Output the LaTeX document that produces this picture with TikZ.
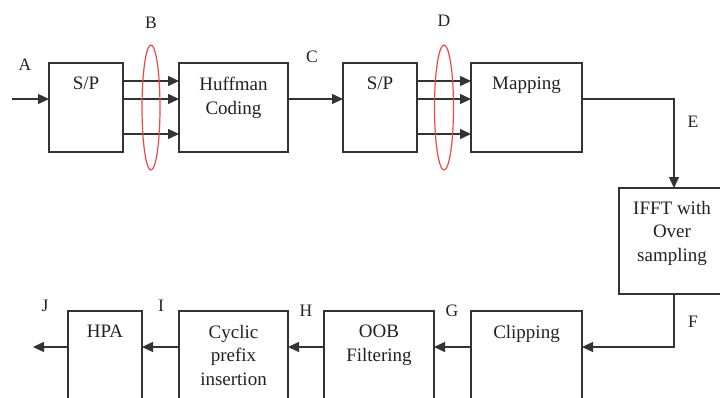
\documentclass[tikz,border=0pt]{standalone}
\usepackage{fontspec}
\setmainfont{Liberation Serif}
\usetikzlibrary{arrows.meta,calc}
\definecolor{ln}{HTML}{333333}
\definecolor{ringred}{HTML}{F04848}
\definecolor{tx}{HTML}{222222}
\begin{document}
\begin{tikzpicture}[x=1pt,y=-1pt,
 blk/.style={draw=ln, line width=1.3pt, fill=white, inner sep=0pt, outer sep=0pt},
 txt/.style={font=\fontsize{19}{23.5}\selectfont, align=center, inner sep=0pt, anchor=north, text=tx},
 lbl/.style={font=\fontsize{17.5}{20}\selectfont, inner sep=0pt, text=tx},
 arr/.style={draw=ln, line width=1.3pt, -{Triangle[length=11pt,width=10pt]}},
 ringst/.style={draw=ringred, line width=1.2pt}]
\useasboundingbox (0,0) rectangle (720,397);
\clip (0,0) rectangle (720,397);
% boxes
\node[blk, minimum width=74pt, minimum height=89pt] (sp1) at (86,107.5) {};
\node[blk, minimum width=109pt, minimum height=89pt] (huff) at (233.5,107.5) {};
\node[blk, minimum width=74pt, minimum height=89pt] (sp2) at (380,107.5) {};
\node[blk, minimum width=111pt, minimum height=89pt] (map) at (526.5,107.5) {};
\node[blk, minimum width=110pt, minimum height=106pt] (ifft) at (674,241) {};
\node[blk, minimum width=111pt, minimum height=119pt] (clip) at (526.5,370.5) {};
\node[blk, minimum width=110pt, minimum height=119pt] (oob) at (379,370.5) {};
\node[blk, minimum width=109pt, minimum height=119pt] (cyc) at (233.5,370.5) {};
\node[blk, minimum width=74pt, minimum height=119pt] (hpa) at (105,370.5) {};
% box texts
\node[txt] (tsp1) at ([yshift=-14pt]sp1.north) {S/P};
\node[txt] (thuff) at ([yshift=-14pt]huff.north) {Huffman\\Coding};
\node[txt] (tsp2) at ([yshift=-14pt]sp2.north) {S/P};
\node[txt] (tmap) at ([yshift=-14pt]map.north) {Mapping};
\node[txt] (tifft) at ([xshift=-2pt,yshift=-13pt]ifft.north) {IFFT with\\Over\\sampling};
\node[txt] (tclip) at ([yshift=-14pt]clip.north) {Clipping};
\node[txt] (toob) at ([yshift=-14pt]oob.north) {OOB\\Filtering};
\node[txt] (tcyc) at ([yshift=-14pt]cyc.north) {Cyclic\\prefix\\insertion};
\node[txt] (thpa) at ([yshift=-14pt]hpa.north) {HPA};
% helper coordinates
\coordinate (in) at (12,99);
\coordinate (r1) at (0,81);
\coordinate (r2) at (0,99);
\coordinate (r3) at (0,134);
\coordinate (rb) at (0,347);
\coordinate (out) at (33,347);
% connectors
\draw[arr] (in) -- (sp1.west |- in);
\foreach \r in {r1,r2,r3} {
  \draw[arr] (sp1.east |- \r) -- (huff.west |- \r);
  \draw[arr] (sp2.east |- \r) -- (map.west |- \r);
}
\draw[arr] (huff.east |- r2) -- (sp2.west |- r2);
\draw[arr] (map.east |- r2) -| (ifft.north);
\draw[arr] (ifft.south) |- (clip.east |- rb);
\draw[arr] (clip.west |- rb) -- (oob.east |- rb);
\draw[arr] (oob.west |- rb) -- (cyc.east |- rb);
\draw[arr] (cyc.west |- rb) -- (hpa.east |- rb);
\draw[arr] (hpa.west |- rb) -- (out);
% rings
\draw[ringst] (151,107.5) ellipse [x radius=9, y radius=62.5];
\draw[ringst] (444,107.5) ellipse [x radius=9.5, y radius=62.5];
% labels
\node[lbl] (lA) at (25,65) {A};
\node[lbl] (lB) at (151,23) {B};
\node[lbl] (lC) at (312,57) {C};
\node[lbl] (lD) at (444,21) {D};
\node[lbl] (lE) at (693,122) {E};
\node[lbl] (lF) at (693,322) {F};
\node[lbl] (lG) at (452,311) {G};
\node[lbl] (lH) at (306,311) {H};
\node[lbl] (lI) at (161,306) {I};
\node[lbl] (lJ) at (45,306) {J};
\end{tikzpicture}
\end{document}
